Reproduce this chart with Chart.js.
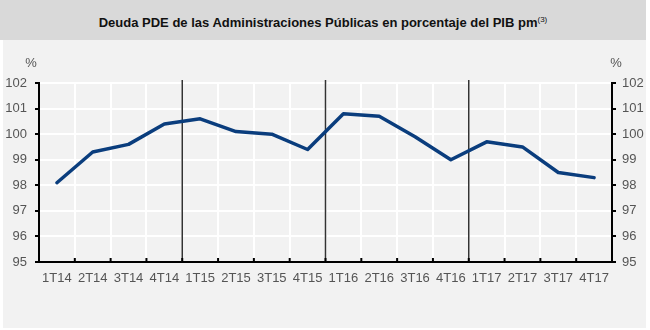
<!DOCTYPE html>
<html>
<head>
<meta charset="utf-8">
<script src="https://cdn.jsdelivr.net/npm/chart.js@4/dist/chart.umd.min.js"></script>
<style>
  body { margin: 0; background: #fff; font-family: "Liberation Sans", Arial, sans-serif; }
  #wrap { position: relative; width: 650px; height: 330px; }
  #title {
    position: absolute; left: 0; top: 0; width: 646px; height: 40px;
    background: #d9d9d9; color: #111; font-weight: bold; font-size: 13px;
    line-height: 40px; text-align: center;
  }
  #title sup { font-size: 8px; font-weight: normal; vertical-align: 5px; }
  #panel { position: absolute; left: 3px; top: 40px; width: 643px; height: 288px; background: #f2f2f2; }
  #box { position: absolute; left: 0; top: 40px; width: 650px; height: 290px; }
</style>
</head>
<body>
<div id="wrap">
  <div id="title">Deuda PDE de las Administraciones Públicas en porcentaje del PIB pm<sup>(3)</sup></div>
  <div id="panel"></div>
  <div id="box"><canvas id="debtChart"></canvas></div>
</div>
<script>
// Quarterly labels and debt ratio (% of GDP)
const quarters = ['1T14', '2T14', '3T14', '4T14', '1T15', '2T15', '3T15', '4T15',
                  '1T16', '2T16', '3T16', '4T16', '1T17', '2T17', '3T17', '4T17'];
const debtPct = [98.1, 99.3, 99.6, 100.4, 100.6, 100.1, 100.0, 99.4,
                 100.8, 100.7, 99.9, 99.0, 99.7, 99.5, 98.5, 98.3];
const yMin = 95;
const yMax = 102;
// year boundaries: a separator after these category indexes
const yearEnds = [3, 7, 11];

const labelFont = { family: '"Liberation Sans", Arial, sans-serif', size: 13 };
const labelColor = '#555';

// separators, inward x ticks and the "%" unit labels
const decorations = {
    id: 'decorations',
    beforeDatasetsDraw(chart) {
        const { ctx, chartArea, scales: { x } } = chart;
        ctx.save();
        ctx.strokeStyle = '#333';
        ctx.lineWidth = 1.5;
        yearEnds.forEach(i => {
            const px = (x.getPixelForValue(i) + x.getPixelForValue(i + 1)) / 2;
            ctx.beginPath();
            ctx.moveTo(px, chartArea.top - 3);
            ctx.lineTo(px, chartArea.bottom);
            ctx.stroke();
        });
        ctx.restore();
    },
    afterDraw(chart) {
        const { ctx, chartArea, scales: { x, y, y1 } } = chart;
        ctx.save();
        ctx.strokeStyle = '#000';
        ctx.lineWidth = 2;
        for (let i = 0; i < quarters.length - 1; i++) {
            const px = (x.getPixelForValue(i) + x.getPixelForValue(i + 1)) / 2;
            ctx.beginPath();
            ctx.moveTo(px, chartArea.bottom);
            ctx.lineTo(px, chartArea.bottom - 4);
            ctx.stroke();
        }
        ctx.fillStyle = labelColor;
        ctx.font = '13px "Liberation Sans", Arial, sans-serif';
        ctx.textAlign = 'center';
        ctx.textBaseline = 'middle';
        ctx.fillText('%', y.right - 8, chartArea.top - 20);
        ctx.fillText('%', y1.left + 4, chartArea.top - 20);
        ctx.restore();
    }
};

new Chart(document.getElementById('debtChart'), {
    type: 'line',
    data: {
        labels: quarters,
        datasets: [{
            data: debtPct,
            borderColor: '#0a3d7d',
            borderWidth: 3.5,
            pointRadius: 0,
            tension: 0,
            borderJoinStyle: 'round',
            borderCapStyle: 'round',
            yAxisID: 'y'
        }]
    },
    options: {
        responsive: true,
        maintainAspectRatio: false,
        animation: false,
        layout: { padding: { top: 43, bottom: 0, left: 0, right: 0 } },
        plugins: {
            legend: { display: false },
            tooltip: { enabled: false }
        },
        scales: {
            x: {
                offset: true,
                grid: { color: '#fff', lineWidth: 2, offset: true, drawTicks: false },
                border: { color: '#000', width: 2 },
                ticks: { color: labelColor, font: labelFont, padding: 9, maxRotation: 0, autoSkip: false },
                afterFit(scale) { scale.height = 68; }
            },
            y: {
                position: 'left',
                min: yMin,
                max: yMax,
                grid: { color: '#fff', lineWidth: 2, tickColor: '#000', tickLength: 4 },
                border: { color: '#000', width: 2 },
                ticks: { stepSize: 1, color: labelColor, font: labelFont, padding: 8 },
                afterFit(scale) { scale.width = 39; }
            },
            y1: {
                position: 'right',
                min: yMin,
                max: yMax,
                grid: { drawOnChartArea: false, lineWidth: 2, tickColor: '#000', tickLength: 4 },
                border: { color: '#000', width: 2 },
                ticks: { stepSize: 1, color: labelColor, font: labelFont, padding: 6 },
                afterFit(scale) { scale.width = 38; }
            }
        }
    },
    plugins: [decorations]
});
</script>
</body>
</html>
